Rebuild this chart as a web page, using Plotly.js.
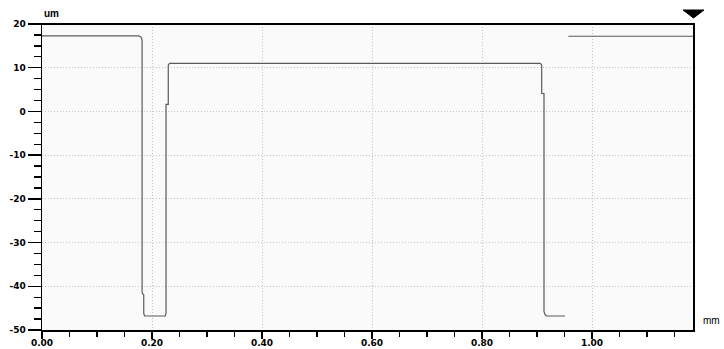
<!DOCTYPE html>
<html><head><meta charset="utf-8">
<script src="https://cdn.plot.ly/plotly-3.0.1.min.js"></script>
<style>html,body{margin:0;padding:0;background:#fff}#chart{width:724px;height:349px}</style>
</head><body><div id="chart"></div>
<script>
// profile: position (mm) and height (um); null marks a gap in the trace
var posMm = [0, 0.176, 0.180, 0.182, 0.182, 0.185, 0.185, 0.187, 0.224, 0.2255, 0.2255, 0.2296, 0.2296, 0.232, 0.906, 0.9085, 0.9085, 0.9127, 0.9127, 0.915, 0.918, 0.951, null, 0.957, 1.1836];
var heightUm = [17.3, 17.3, 17.0, 16.3, -41.5, -42.0, -46.3, -46.8, -46.8, -46.2, 1.6, 1.6, 10.6, 11.0, 11.0, 10.6, 4.1, 4.1, -45.8, -46.6, -46.8, -46.8, null, 17.2, 17.2];
var xTickVals = [0, 0.2, 0.4, 0.6, 0.8, 1.0];
var xTickText = ["0.00", "0.20", "0.40", "0.60", "0.80", "1.00"];
var yTickVals = [20, 10, 0, -10, -20, -30, -40, -50];
var yTickText = ["20", "10", "0", "-10", "-20", "-30", "-40", "-50"];

var tickFont = {family: "DejaVu Sans, sans-serif", size: 9, color: "#000", weight: "bold"};
Plotly.newPlot("chart", [{
  x: posMm, y: heightUm, type: "scatter", mode: "lines", connectgaps: false,
  line: {color: "#5a5a5a", width: 1.2}, hoverinfo: "skip"
}], {
  width: 724, height: 349,
  margin: {l: 42, r: 31, t: 24, b: 19, pad: 0},
  paper_bgcolor: "#ffffff", plot_bgcolor: "#fafafa",
  showlegend: false,
  xaxis: {
    range: [0, 1.1836], tickvals: xTickVals, ticktext: xTickText,
    ticks: "outside", ticklen: 7, tickcolor: "#000", tickwidth: 1.3,
    ticklabelstandoff: -3,
    showline: true, linecolor: "#000", linewidth: 1.5, mirror: true,
    showgrid: true, gridcolor: "#c4c4c4", griddash: "1px,2px", gridwidth: 1,
    zeroline: false, tickfont: tickFont,
    minor: {dtick: 0.05, ticks: "outside", ticklen: 5, tickcolor: "#000", showgrid: false}
  },
  yaxis: {
    range: [-50, 20], tickvals: yTickVals, ticktext: yTickText,
    ticks: "outside", ticklen: 13, tickcolor: "#000", tickwidth: 1.3,
    showline: true, linecolor: "#000", linewidth: 1.5, mirror: true,
    showgrid: true, gridcolor: "#c4c4c4", griddash: "1px,2px", gridwidth: 1,
    zeroline: false, tickfont: tickFont,
    minor: {dtick: 2.5, ticks: "outside", ticklen: 7, tickcolor: "#000", showgrid: false}
  },
  shapes: [
    {type: "line", xref: "paper", yref: "paper", x0: 0, x1: 1, y0: 1, y1: 1,
     line: {color: "#000", width: 2.2}},
    {type: "path", xref: "paper", yref: "paper", xsizemode: "pixel", ysizemode: "pixel",
     xanchor: 1, yanchor: 1, path: "M -10 14 L 11 14 L 0.5 6 Z",
     fillcolor: "#000", line: {color: "#000", width: 1}}
  ],
  annotations: [
    {text: "um", xref: "paper", yref: "paper", x: 0, y: 1, xanchor: "left", yanchor: "bottom",
     yshift: 3, showarrow: false, font: {family: "Liberation Sans, Arial, sans-serif", size: 10, color: "#000", weight: "bold"}},
    {text: "mm", xref: "paper", yref: "paper", x: 1, y: 0, xanchor: "left", yanchor: "bottom",
     xshift: 8, yshift: 2, showarrow: false, font: {family: "Liberation Sans, Arial, sans-serif", size: 10, color: "#000"}}
  ]
}, {staticPlot: true, displayModeBar: false});
</script></body></html>
